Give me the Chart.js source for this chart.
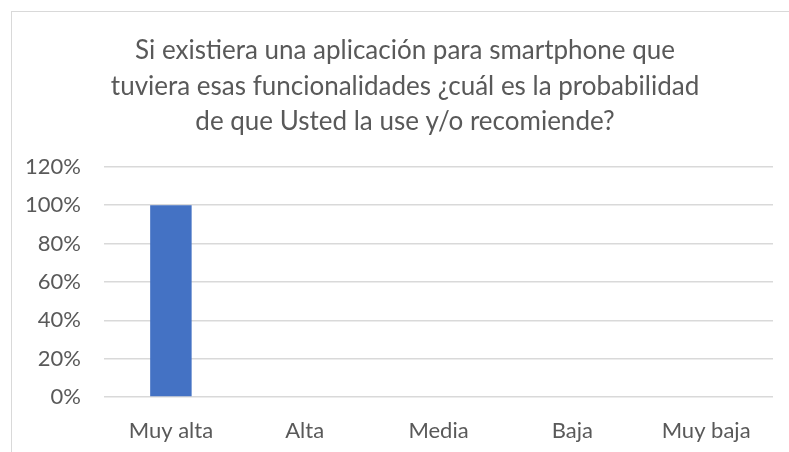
<!DOCTYPE html>
<html>
<head>
<meta charset="utf-8">
<script src="https://cdn.jsdelivr.net/npm/chart.js@4.4.1/dist/chart.umd.min.js"></script>
<style>
  html, body { margin: 0; padding: 0; background: #fff; }
  #wrap { position: relative; width: 789px; height: 452px; overflow: hidden; }
  #frame { position: absolute; left: 11px; top: 11px; width: 800px; height: 460px; border: 1px solid #d9d9d9; box-sizing: border-box; }
  canvas { position: absolute; left: 0; top: 0; }
</style>
</head>
<body>
<div id="wrap">
  <div id="frame"></div>
  <canvas id="c" width="789" height="452"></canvas>
</div>
<script>
const titleLines = [
  "Si existiera una aplicación para smartphone que",
  "tuviera esas funcionalidades ¿cuál es la probabilidad",
  "de que Usted la use y/o recomiende?"
];
const categories = ["Muy alta", "Alta", "Media", "Baja", "Muy baja"];
const values = [100, 0, 0, 0, 0];
const yTicks = [0, 20, 40, 60, 80, 100, 120];

const FONT = "Lato, 'Open Sans', sans-serif";
const GREY = "#595959";

// Shift the title block so it is centred on the (wider) original chart frame
const titleShift = {
  id: "titleShift",
  afterLayout(chart) {
    const t = chart.titleBlock;
    if (t) { t.left += 13; t.right += 13; }
  }
};

new Chart(document.getElementById("c"), {
  type: "bar",
  data: {
    labels: categories,
    datasets: [{
      data: values,
      backgroundColor: "#4472C4",
      borderWidth: 0,
      categoryPercentage: 0.31,
      barPercentage: 1.0
    }]
  },
  plugins: [titleShift],
  options: {
    responsive: false,
    animation: false,
    devicePixelRatio: 1,
    layout: { padding: { left: 11, right: 16, top: 0, bottom: 0 } },
    plugins: {
      legend: { display: false },
      tooltip: { enabled: false },
      title: {
        display: true,
        text: titleLines,
        color: GREY,
        font: { family: FONT, size: 26, weight: "normal", lineHeight: 1.37 },
        padding: { top: 33, bottom: 27 }
      }
    },
    scales: {
      x: {
        grid: { display: false, drawTicks: false },
        border: { display: false },
        ticks: { color: GREY, font: { family: FONT, size: 22 }, padding: 21 },
        afterFit: s => { s.height = 55; }
      },
      y: {
        min: 0, max: 120,
        afterBuildTicks: s => { s.ticks = yTicks.map(v => ({ value: v })); },
        grid: { color: "#d9d9d9", lineWidth: 1.5, drawTicks: false },
        border: { display: false },
        ticks: { color: GREY, font: { family: FONT, size: 22 }, padding: 23, callback: v => v + "%" },
        afterFit: s => { s.width = 93; }
      }
    }
  }
});
</script>
</body>
</html>
